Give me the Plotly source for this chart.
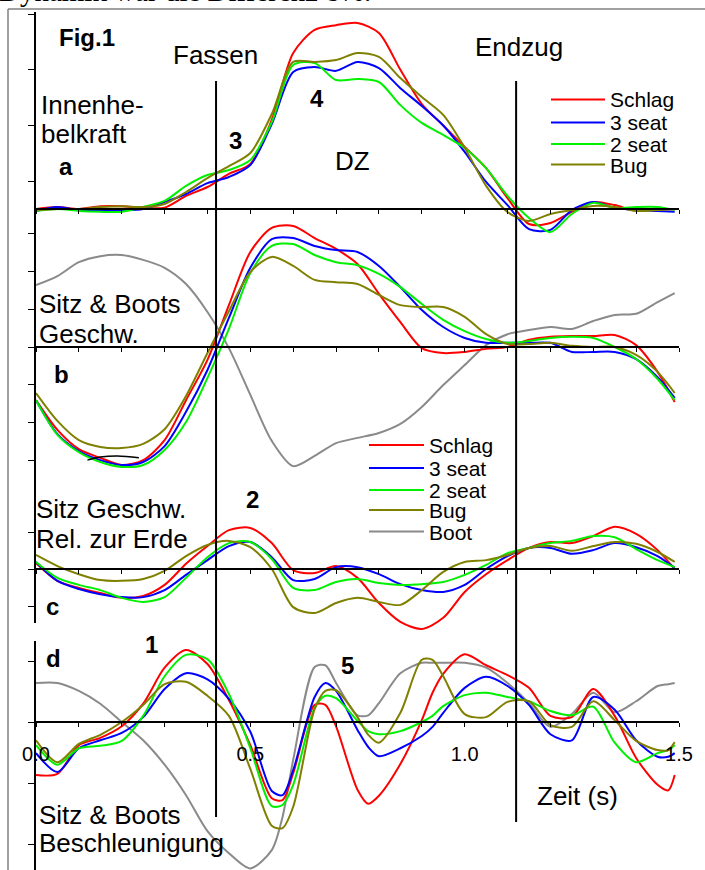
import plotly.graph_objects as go

# ---------------- data ----------------
time_s = [0.00, 0.05, 0.10, 0.15, 0.20, 0.25, 0.30, 0.35, 0.40, 0.45, 0.50, 0.55, 0.60,
          0.65, 0.70, 0.75, 0.80, 0.85, 0.90, 0.95, 1.00, 1.05, 1.10, 1.15, 1.20, 1.25,
          1.30, 1.35, 1.40, 1.45, 1.49]
# panel d is sampled a little finer around its sharp peaks
time_d = [0.00, 0.05, 0.10, 0.15, 0.20, 0.25, 0.30, 0.35, 0.40, 0.45, 0.50, 0.55, 0.575, 0.60,
          0.65, 0.675, 0.70, 0.75, 0.775, 0.80, 0.85, 0.90, 0.925, 0.95, 1.00, 1.05, 1.10, 1.15,
          1.20, 1.25, 1.30, 1.35, 1.40, 1.45, 1.475, 1.49]

series_names = ["Schlag", "3 seat", "2 seat", "Bug", "Boot"]

# a: Innenhebelkraft (units of 100 N)
a_schlag = [0, 0.07, 0, 0.1, 0.1, 0.04, 0.05, 0.47, 0.79, 1.26, 1.62, 3.2, 5.6, 6.43, 6.6, 6.68,
            6.32, 5.0, 3.77, 3.0, 2.23, 1.47, 0.39, -0.54, -0.5, -0.1, 0.25, 0.14, -0.07, 0, 0]
a_seat3 = [-0.07, 0.07, -0.04, -0.04, -0.04, 0, 0.25, 0.54, 0.93, 1.15, 1.58, 3.05, 4.92, 5.1,
           4.96, 5.28, 5.06, 4.34, 3.7, 3.0, 2.05, 0.97, 0.14, -0.72, -0.75, -0.04, 0.25, 0.04,
           -0.04, -0.07, -0.1]
a_seat2 = [-0.07, 0, -0.07, -0.1, -0.1, 0.07, 0.29, 0.83, 1.22, 1.4, 1.76, 3.12, 5.17, 5.24,
           4.63, 4.67, 4.56, 3.73, 3.09, 2.66, 2.19, 1.47, 0.47, -0.32, -0.83, -0.18, 0.22, 0.04,
           0.07, 0.07, -0.04]
a_bug = [-0.04, 0, 0, 0.07, 0.1, 0.07, 0.18, 0.61, 1.11, 1.54, 2.01, 3.41, 5.28, 5.28, 5.35, 5.6,
         5.46, 4.7, 4.02, 3.38, 2.2, 0.83, -0.11, -0.43, -0.18, -0.04, 0.11, 0.07, -0.07, -0.04, 0]

# b: Sitz & Boots Geschw.
b_schlag = [-1.41, -2.2, -2.71, -2.94, -3.13, -3.0, -2.47, -1.41, -0.34, 1.11, 2.52, 3.16, 3.21,
            2.89, 2.6, 2.2, 1.41, 0.66, -0.03, -0.16, -0.13, -0.05, 0, 0.19, 0.27, 0.29, 0.29,
            0.32, 0.05, -0.66, -1.46]
b_seat3 = [-1.41, -2.31, -2.76, -3.0, -3.13, -3.05, -2.63, -1.72, -0.61, 0.77, 2.1, 2.86, 2.89,
           2.68, 2.57, 2.52, 2.15, 1.59, 0.98, 0.53, 0.24, 0.11, 0.11, 0.11, 0.11, -0.13, -0.13,
           -0.13, -0.32, -0.8, -1.35]
b_seat2 = [-1.41, -2.33, -2.79, -3.05, -3.18, -3.13, -2.73, -1.99, -0.82, 0.48, 1.96, 2.68, 2.73,
           2.44, 2.25, 2.17, 1.94, 1.59, 1.14, 0.72, 0.42, 0.21, 0.11, 0.16, 0.24, 0.27, 0.24, 0,
           -0.32, -0.85, -1.41]
b_bug = [-1.22, -1.96, -2.47, -2.65, -2.68, -2.57, -2.18, -1.3, -0.16, 0.95, 1.99, 2.39, 2.15,
         1.78, 1.72, 1.67, 1.38, 1.11, 1.06, 1.06, 0.8, 0.34, 0.08, 0.08, 0.11, 0.03, 0, 0,
         -0.21, -0.66, -1.22]
b_boot = [1.64, 1.88, 2.25, 2.41, 2.44, 2.31, 2.1, 1.67, 0.93, -0.03, -1.27, -2.49, -3.16, -2.89,
          -2.55, -2.41, -2.28, -2.04, -1.59, -1.01, -0.48, 0.05, 0.34, 0.45, 0.53, 0.48, 0.69,
          0.85, 0.88, 1.19, 1.43]
b_mark_t = [0.12, 0.15, 0.19, 0.24]
b_mark_v = [-3.0, -2.92, -2.89, -2.94]

# c: Sitz Geschw. rel. zur Erde
c_schlag = [0.16, -0.32, -0.51, -0.65, -0.78, -0.73, -0.43, 0.14, 0.62, 1.05, 1.11, 0.7, -0.03,
            -0.11, 0.08, -0.24, -0.92, -1.43, -1.62, -1.32, -0.62, -0.14, 0.24, 0.57, 0.73, 0.7,
            0.89, 1.14, 0.95, 0.51, 0]
c_seat3 = [0.19, -0.32, -0.54, -0.68, -0.76, -0.76, -0.57, -0.16, 0.24, 0.62, 0.73, 0.32, -0.3,
           -0.27, 0.05, 0.05, -0.14, -0.41, -0.57, -0.62, -0.43, 0, 0.35, 0.57, 0.57, 0.41, 0.51,
           0.7, 0.59, 0.35, 0.03]
c_seat2 = [0.19, -0.24, -0.43, -0.57, -0.78, -0.89, -0.76, -0.24, 0.32, 0.7, 0.73, 0.27, -0.51,
           -0.57, -0.35, -0.27, -0.38, -0.43, -0.41, -0.35, -0.16, 0.11, 0.43, 0.57, 0.7, 0.76,
           0.89, 0.86, 0.54, 0.24, 0.05]
c_bug = [0.38, 0.08, -0.14, -0.3, -0.32, -0.27, -0.05, 0.35, 0.65, 0.76, 0.59, 0, -1.03, -1.19,
         -0.92, -0.78, -0.89, -0.97, -0.57, -0.08, 0.19, 0.24, 0.38, 0.57, 0.62, 0.49, 0.62, 0.73,
         0.68, 0.46, 0.19]

# d: Sitz & Boots Beschleunigung (on time_d)
d_schlag = [-0.87, -0.85, -0.38, -0.26, -0.07, 0.3, 0.89, 1.18, 0.95, 0.36, -0.38, -1.25, -1.28,
            -0.84, 0.28, 0.28, -0.07, -1.11, -1.34, -1.21, -0.69, 0.03, 0.48, 0.79, 1.11, 0.93,
            0.77, 0.56, 0.1, 0.08, 0.54, 0.1, -0.59, -1.03, -1.12, -0.87]
d_seat3 = [-0.51, -0.82, -0.43, -0.3, -0.18, 0.08, 0.54, 0.8, 0.7, 0.38, -0.16, -1.13, -1.2,
           -0.79, 0.41, 0.64, 0.51, -0.13, -0.41, -0.56, -0.43, -0.23, -0.08, 0.15, 0.56, 0.74,
           0.59, 0.28, -0.2, -0.3, 0.41, 0.2, -0.3, -0.57, -0.57, -0.51]
d_seat2 = [-0.38, -0.7, -0.43, -0.39, -0.31, 0.1, 0.75, 1.1, 1.03, 0.46, -0.43, -1.38, -1.36,
           -1.03, 0.23, 0.43, 0.39, 0.02, -0.15, -0.2, -0.15, 0, 0.1, 0.26, 0.44, 0.48, 0.41,
           0.34, 0.18, 0.11, 0.25, -0.34, -0.66, -0.51, -0.46, -0.38]
d_bug = [-0.3, -0.66, -0.36, -0.21, 0, 0.28, 0.62, 0.66, 0.43, 0.1, -0.77, -1.7, -1.74, -1.39,
         0.21, 0.51, 0.52, 0.08, -0.21, -0.34, 0.15, 1.02, 1.02, 0.75, 0.13, 0.08, 0.33, 0.34,
         -0.05, -0.08, 0.34, 0.03, -0.31, -0.46, -0.46, -0.33]
d_boot = [0.64, 0.64, 0.51, 0.3, 0, -0.3, -0.7, -1.2, -1.79, -2.15, -2.4, -2.1, -1.56, -0.62,
          0.9, 0.93, 0.64, 0.11, 0.11, 0.31, 0.8, 0.97, 0.97, 0.97, 0.97, 0.89, 0.64, 0.31, -0.08,
          0.13, 0.48, 0.16, 0.34, 0.59, 0.62, 0.64]

phase_times = [0.42, 1.12]          # Fassen, Endzug
x_tick_labels = ["0.0", "0.5", "1.0", "1.5"]
x_label_vals = [0.0, 0.5, 1.0, 1.5]

# ---------------- geometry ----------------
W, H = 705, 870
ML, MR = 36, 26
PW = W - ML - MR


def py(px):
    return 1 - px / H


def pxx(px):
    return (px - ML) / PW


# panel: zero line pixel, pixels per unit, tick axis extent (top,bottom), tick values
panels = {
    "a": dict(zero=209, unit=27.85, ext=(12, 209), ticks=[1, 3, 5, 7]),
    "b": dict(zero=347, unit=37.7, ext=(209, 480), ticks=[-3, -2, -1, 0, 1, 2, 3]),
    "c": dict(zero=569, unit=37.0, ext=(480, 623), ticks=[-1, 0, 1]),
    "d": dict(zero=722, unit=61.0, ext=(641, 870), ticks=[-2, -1, 0, 1]),
}

colors = {"Schlag": "#FF0000", "3 seat": "#0000FF", "2 seat": "#00F000",
          "Bug": "#808000", "Boot": "#8A8A8A"}

FONT = "Liberation Sans, Arial, sans-serif"

fig = go.Figure()

panel_data = [
    ("a", "y", time_s, {"Schlag": a_schlag, "3 seat": a_seat3, "2 seat": a_seat2, "Bug": a_bug}),
    ("b", "y2", time_s, {"Boot": b_boot, "Schlag": b_schlag, "3 seat": b_seat3, "2 seat": b_seat2,
                         "Bug": b_bug}),
    ("c", "y3", time_s, {"Schlag": c_schlag, "3 seat": c_seat3, "2 seat": c_seat2, "Bug": c_bug}),
    ("d", "y4", time_d, {"Boot": d_boot, "Schlag": d_schlag, "3 seat": d_seat3, "2 seat": d_seat2,
                         "Bug": d_bug}),
]

for key, yax, tt, sers in panel_data:
    for name, vals in sers.items():
        fig.add_trace(go.Scatter(x=tt, y=vals, xaxis="x", yaxis=yax, mode="lines",
                                 name=name, showlegend=False,
                                 line=dict(color=colors[name], width=2, shape="spline",
                                           smoothing=0.8)))

fig.add_trace(go.Scatter(x=b_mark_t, y=b_mark_v, xaxis="x", yaxis="y2", mode="lines",
                         showlegend=False, line=dict(color="black", width=1.5, shape="spline")))

# empty traces to register the axis-only subplots
for xa, ya in [("x", "y5"), ("x", "y6"), ("x", "y7"), ("x", "y8"),
               ("x2", "y"), ("x3", "y"), ("x4", "y"), ("x5", "y")]:
    fig.add_trace(go.Scatter(x=[], y=[], xaxis=xa, yaxis=ya, showlegend=False, hoverinfo="skip"))

layout = dict(
    width=W, height=H,
    margin=dict(l=ML, r=MR, t=0, b=0),
    paper_bgcolor="white", plot_bgcolor="rgba(0,0,0,0)",
    showlegend=False,
    font=dict(family=FONT, color="black"),
    xaxis=dict(range=[0, 1.5], visible=False, domain=[0, 1], anchor="y"),
)

# trace axes (full height, invisible)
for i, key in enumerate(["a", "b", "c", "d"]):
    p = panels[key]
    rng = [(p["zero"] - H) / p["unit"], p["zero"] / p["unit"]]
    name = "yaxis" if i == 0 else f"yaxis{i + 1}"
    ax = dict(range=rng, domain=[0, 1], visible=False, anchor="x")
    if i > 0:
        ax["overlaying"] = "y"
    layout[name] = ax

# left axis lines with ticks
for i, key in enumerate(["a", "b", "c", "d"]):
    p = panels[key]
    top, bot = p["ext"]
    layout[f"yaxis{i + 5}"] = dict(
        domain=[py(bot), py(top)], anchor="x",
        range=[(p["zero"] - bot) / p["unit"], (p["zero"] - top) / p["unit"]],
        tickmode="array", tickvals=p["ticks"], ticks="outside", ticklen=6, tickwidth=1.3,
        tickcolor="black", showticklabels=False, showline=True, linecolor="black",
        linewidth=1.5, showgrid=False, zeroline=False)

# time axes on each zero line
tick_vals = [round(0.1 * k, 1) for k in range(16)]
for i, key in enumerate(["a", "b", "c", "d"]):
    p = panels[key]
    ax = dict(range=[0, 1.5], overlaying="x", anchor="free", position=py(p["zero"]),
              tickmode="array", tickvals=tick_vals, ticks="outside", ticklen=4, tickwidth=1.3,
              tickcolor="black", showline=True, linecolor="black", linewidth=1.5,
              showgrid=False, zeroline=False, showticklabels=False)
    if key == "d":
        ax.update(showticklabels=True,
                  ticktext=[x_tick_labels[x_label_vals.index(v)] if v in x_label_vals else ""
                            for v in tick_vals],
                  tickfont=dict(family=FONT, size=20, color="black"),
                  ticklabelstandoff=10)
    layout[f"xaxis{i + 2}"] = ax

fig.update_layout(**layout)

# ---------------- shapes ----------------
shapes = []
# frame
shapes.append(dict(type="line", xref="paper", yref="paper", x0=pxx(8), x1=pxx(W + 5),
                   y0=py(9), y1=py(9), line=dict(color="#808080", width=1.5)))
shapes.append(dict(type="line", xref="paper", yref="paper", x0=pxx(8), x1=pxx(8),
                   y0=py(9), y1=py(H + 5), line=dict(color="#808080", width=1.5)))
# phase lines
for t, bottom in zip(phase_times, [817, 822]):
    shapes.append(dict(type="line", xref="x", yref="paper", x0=t, x1=t, y0=py(bottom), y1=py(81),
                       line=dict(color="black", width=2)))

annotations = []


def add_text(text, left, cy, size=26, bold=False, family=FONT):
    annotations.append(dict(text=f"<b>{text}</b>" if bold else text, xref="paper", yref="paper",
                            x=pxx(left), y=py(cy), xanchor="left", yanchor="middle",
                            showarrow=False, font=dict(family=family, size=size, color="black")))


# legends (panel a and panel c)
legend_a = ["Schlag", "3 seat", "2 seat", "Bug"]
legend_a_rows = [99.5, 122.5, 144, 164.5]
legend_c = ["Schlag", "3 seat", "2 seat", "Bug", "Boot"]
legend_c_rows = [445, 468, 490, 510, 531.5]
for names, rows, x0, x1 in [(legend_a, legend_a_rows, 551, 605), (legend_c, legend_c_rows, 369, 424)]:
    for nm, r in zip(names, rows):
        shapes.append(dict(type="line", xref="paper", yref="paper", x0=pxx(x0), x1=pxx(x1),
                           y0=py(r), y1=py(r), line=dict(color=colors[nm], width=2)))
        add_text(nm, x1 + 3, r + 0.5, size=21)

fig.update_layout(shapes=shapes)

# labels
add_text("Dynamik war die Differenz 8%.", -3, -9, size=29, family="Liberation Serif, Times New Roman, serif")
add_text("Fig.1", 57, 37, size=24, bold=True)
add_text("Fassen", 171, 55)
add_text("Endzug", 473, 47)
add_text("Innenhe-", 39, 105)
add_text("belkraft", 39, 133.5)
add_text("a", 57, 166.5, size=24, bold=True)
add_text("3", 227, 140, size=24, bold=True)
add_text("4", 308, 98.5, size=24, bold=True)
add_text("DZ", 333, 161.5)
add_text("Sitz &amp; Boots", 37, 303.5)
add_text("Geschw.", 37, 334)
add_text("b", 52, 374.5, size=24, bold=True)
add_text("2", 244, 500, size=24, bold=True)
add_text("Sitz Geschw.", 34, 508.5)
add_text("Rel. zur Erde", 34, 538.5)
add_text("c", 44, 606.5, size=24, bold=True)
add_text("1", 143, 644.5, size=24, bold=True)
add_text("d", 44, 658.5, size=24, bold=True)
add_text("5", 339, 665, size=24, bold=True)
add_text("Sitz &amp; Boots", 37, 815)
add_text("Beschleunigung", 37, 843)
add_text("Zeit (s)", 535, 796)

fig.update_layout(annotations=annotations)

fig.write_html("out.html", config={"displayModeBar": False},
               post_script="document.body.style.margin='0';")
